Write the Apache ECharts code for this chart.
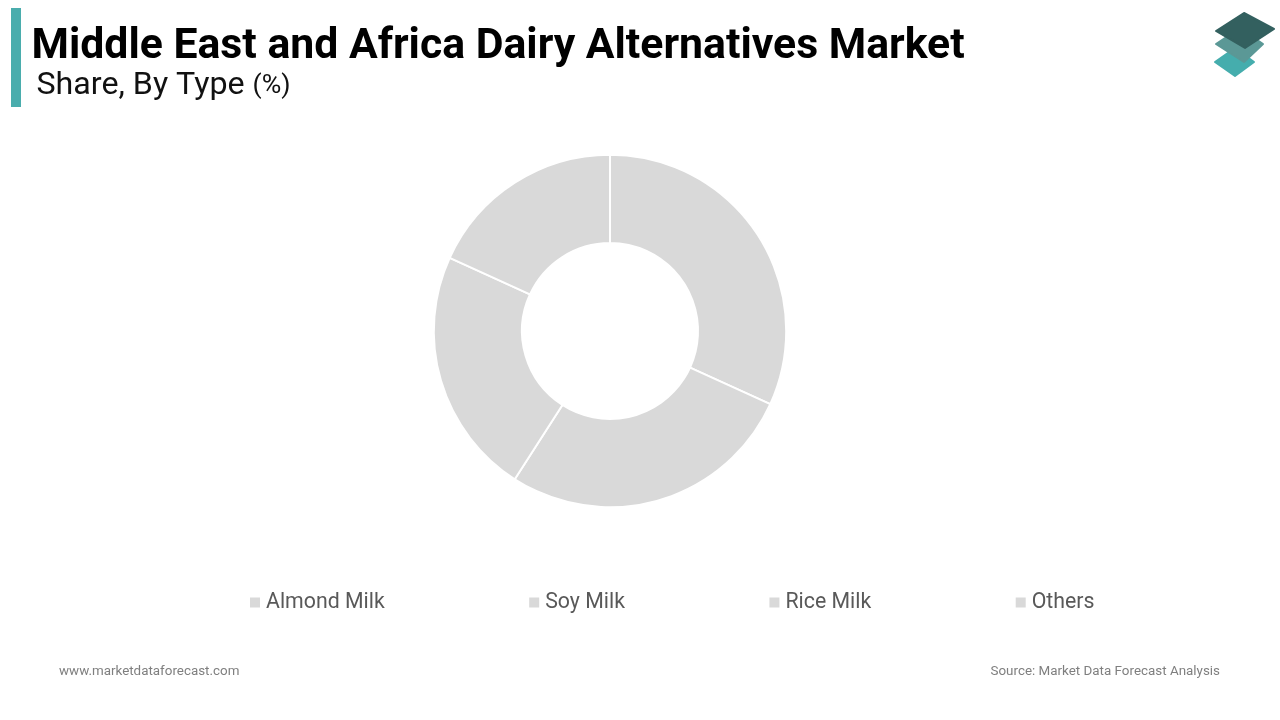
<!DOCTYPE html>
<html>
<head>
<meta charset="utf-8">
<style>html,body{margin:0;padding:0;background:#fff}#chart{width:1280px;height:720px}</style>
<script src="https://cdn.jsdelivr.net/npm/echarts@6/dist/echarts.min.js"></script>
</head>
<body>
<div id="chart"></div>
<script>
// Market share by product type
const categories = ['Almond Milk', 'Soy Milk', 'Rice Milk', 'Others'];
const shares = [35, 30, 25, 20];
const sliceColor = '#D9D9D9';
const titleText = 'Middle East and Africa Dairy Alternatives Market';
const subtitleText = 'Share, By Type';
const unitText = '(%)';
const siteText = 'www.marketdataforecast.com';
const sourceText = 'Source: Market Data Forecast Analysis';

const chart = echarts.init(document.getElementById('chart'), null, { renderer: 'canvas' });
chart.setOption({
  animation: false,
  backgroundColor: '#fff',
  title: [
    { text: titleText, left: 31.5, top: 22, padding: 0,
      textStyle: { fontFamily: 'Roboto', fontWeight: 700, fontSize: 42.75, color: '#000', lineHeight: 50 } },
    { text: '{s|' + subtitleText + '}{g| }{u|' + unitText + '}', left: 36.5, top: 67, padding: 0,
      textStyle: { fontWeight: 400, rich: {
        s: { fontFamily: 'Roboto', fontWeight: 400, fontSize: 32.2, color: '#111', lineHeight: 38 },
        g: { fontFamily: 'Roboto', fontWeight: 400, fontSize: 32, color: '#111', lineHeight: 38 },
        u: { fontFamily: 'Roboto', fontWeight: 400, fontSize: 26.7, color: '#111', lineHeight: 38 }
      } } },
    { text: siteText, left: 59, top: 665, padding: 0,
      textStyle: { fontFamily: 'Roboto', fontWeight: 400, fontSize: 13.4, color: '#7f7f7f' } },
    { text: sourceText, right: 60, top: 665, padding: 0,
      textStyle: { fontFamily: 'Roboto', fontWeight: 400, fontSize: 13.4, color: '#7f7f7f' } }
  ],
  legend: {
    data: categories,
    left: 250,
    top: 592,
    padding: 0,
    icon: 'rect',
    itemWidth: 10,
    itemHeight: 10,
    itemGap: 144.5,
    itemStyle: { borderWidth: 0 },
    textStyle: { fontFamily: 'Roboto', fontSize: 21.3, color: '#595959', padding: [0, 0, 0, 1] }
  },
  series: [{
    type: 'pie',
    center: [610, 331],
    radius: [88, 176.2],
    startAngle: 90,
    clockwise: true,
    label: { show: false },
    labelLine: { show: false },
    itemStyle: { color: sliceColor, borderColor: '#fff', borderWidth: 2 },
    data: categories.map((name, i) => ({ name, value: shares[i] }))
  }],
  graphic: [
    { type: 'rect', shape: { x: 11, y: 8, width: 10, height: 99 }, style: { fill: '#4AADAD' } },
    // layered logo mark, drawn back to front with softened corners
    { type: 'polygon', shape: { points: [[1235, 48], [1254, 62], [1235, 76], [1215, 62]] }, style: { fill: '#45ADAD', stroke: '#45ADAD', lineWidth: 2, lineJoin: 'round' } },
    { type: 'polygon', shape: { points: [[1240, 28], [1263, 44], [1244, 62], [1216, 44]] }, style: { fill: '#5B9896', stroke: '#5B9896', lineWidth: 2, lineJoin: 'round' } },
    { type: 'polygon', shape: { points: [[1244, 13], [1274, 29], [1245, 48], [1216, 31]] }, style: { fill: '#33605F', stroke: '#33605F', lineWidth: 2, lineJoin: 'round' } }
  ]
});
</script>
</body>
</html>
